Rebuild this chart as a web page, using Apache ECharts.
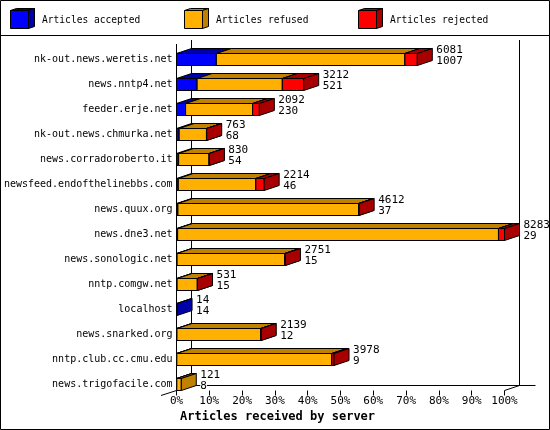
<!DOCTYPE html>
<html><head><meta charset="utf-8">
<script src="https://cdn.jsdelivr.net/npm/echarts@6/dist/echarts.min.js"></script>
<style>html,body{margin:0;padding:0;background:#fff}#c{width:550px;height:430px}</style>
</head><body><div id="c"></div>
<script>
const hosts = ['nk-out.news.weretis.net','news.nntp4.net','feeder.erje.net','nk-out.news.chmurka.net','news.corradoroberto.it','newsfeed.endofthelinebbs.com','news.quux.org','news.dne3.net','news.sonologic.net','nntp.comgw.net','localhost','news.snarked.org','nntp.club.cc.cmu.edu','news.trigofacile.com'];
const totals   = [6081, 3212, 2092, 763, 830, 2214, 4612, 8283, 2751, 531, 14, 2139, 3978, 121];
const accepted = [1007, 521, 230, 68, 54, 46, 37, 29, 15, 15, 14, 12, 9, 8];
const refused  = [4761, 2152, 1692, 689, 770, 1958, 4560, 8102, 2716, 511, 0, 2117, 3914, 113];
const rejected = [313, 539, 170, 6, 6, 210, 15, 152, 20, 5, 0, 10, 55, 0];
const seriesNames = ['Articles accepted', 'Articles refused', 'Articles rejected'];
const axisTitle = 'Articles received by server';

const FRONT = ['#0000ff', '#ffb000', '#ff0000'];
const SHADE = ['#0000a8', '#c08000', '#a80000'];
const DX = 15, DY = -5, HALF = 6, AXIS_OFF = -6;
const MONO = '"DejaVu Sans Mono", "Liberation Mono", monospace';
const maxTotal = Math.max(...totals);
const segs = [accepted, refused, rejected];

function box(x1, x2, yT, yB, k, dx, dy) {
  const st = { fill: SHADE[k], stroke: '#000', lineWidth: 1 };
  return [
    { type: 'polygon', shape: { points: [[x1, yT], [x2, yT], [x2 + dx, yT + dy], [x1 + dx, yT + dy]] }, style: st },
    { type: 'rect', shape: { x: x1, y: yT, width: x2 - x1, height: yB - yT }, style: { fill: FRONT[k], stroke: '#000', lineWidth: 1 } },
    { type: 'polygon', shape: { points: [[x2, yT], [x2 + dx, yT + dy], [x2 + dx, yB + dy], [x2, yB]] }, style: st }
  ];
}

const series = [];
// frame (3D walls)
series.push({
  type: 'custom', name: 'frame', silent: true,
  data: [[0, 0]],
  renderItem: function (params, api) {
    const cs = params.coordSys;
    const x0 = api.coord([0, 0])[0], x1 = api.coord([100, 0])[0];
    const yF = cs.y + cs.height + AXIS_OFF, yB = yF + DY;
    const ls = { stroke: '#000', lineWidth: 1 };
    const L = (a, b, c, d) => ({ type: 'line', shape: { x1: a, y1: b, x2: c, y2: d }, style: ls });
    return { type: 'group', children: [
      L(x0, cs.y - 2.5, x0, yF),
      L(x0 + DX, cs.y - 6.5, x0 + DX, yB),
      L(x1 + DX, cs.y - 6.5, x1 + DX, yB),
      L(x0 + DX, yB, x1 + DX + 16, yB),
      L(x1, yF, x1 + DX, yB),
      L(x0 - 15.5, yF + 5, x0, yF)
    ] };
  }
});
// stacked 3D segments
segs.forEach(function (arr, k) {
  const data = hosts.map(function (h, j) {
    let start = 0;
    for (let m = 0; m < k; m++) start += segs[m][j];
    return [start / maxTotal * 100, (start + arr[j]) / maxTotal * 100, j, arr[j]];
  });
  series.push({
    type: 'custom', name: seriesNames[k],
    data: data,
    encode: { x: [0, 1], y: 2 },
    renderItem: function (params, api) {
      if (api.value(3) <= 0) return null;
      const j = api.value(2);
      const p1 = api.coord([api.value(0), j]);
      const p2 = api.coord([api.value(1), j]);
      const c = p1[1];
      const yT = Math.round(c) - HALF + 0.5, yBt = Math.round(c) + HALF + 0.5;
      return { type: 'group', children: box(p1[0], p2[0], yT, yBt, k, DX, DY) };
    }
  });
});
// value labels
series.push({
  type: 'custom', name: 'labels', silent: true,
  data: hosts.map((h, j) => [totals[j] / maxTotal * 100, j, totals[j], accepted[j]]),
  encode: { x: 0, y: 1 },
  renderItem: function (params, api) {
    const p = api.coord([api.value(0), api.value(1)]);
    const x = p[0] + DX + 4, c = Math.round(p[1]);
    const ts = (t, y) => ({ type: 'text', x: x, y: y, style: { text: String(t), font: '11px ' + MONO, fill: '#000', verticalAlign: 'middle', align: 'left', backgroundColor: '#fff' } });
    return { type: 'group', children: [ts(api.value(2), c - 8.5), ts(api.value(3), c + 2.5)] };
  }
});

// legend graphic
const legendItems = [];
const legX = [10, 184, 358];
seriesNames.forEach(function (n, k) {
  const x = legX[k] + 0.5, y = 10.5;
  legendItems.push({ type: 'group', children: box(x, x + 18, y, y + 18, k, 6, -2) });
  legendItems.push({ type: 'text', x: legX[k] + 32, y: 20, style: { text: n, font: '9.6px ' + MONO, fill: '#000', verticalAlign: 'middle' } });
});

const chart = echarts.init(document.getElementById('c'), null, { renderer: 'canvas' });
chart.setOption({
  animation: false,
  backgroundColor: '#fff',
  grid: { left: 176.5, width: 328, top: 46.5, height: 350, containLabel: false },
  xAxis: {
    type: 'value', min: 0, max: 100, interval: 10, offset: AXIS_OFF,
    axisLine: { show: false },
    axisTick: { show: true, length: 5, lineStyle: { color: '#000', width: 1 } },
    splitLine: { show: false },
    axisLabel: { formatter: '{value}%', fontFamily: MONO, fontSize: 11, color: '#000', margin: 5 }
  },
  yAxis: {
    type: 'category', data: hosts, inverse: true,
    axisLine: { show: false }, axisTick: { show: false }, splitLine: { show: false },
    axisLabel: { fontFamily: MONO, fontSize: 10, color: '#000', margin: 4 }
  },
  graphic: [
    { type: 'rect', shape: { x: 0.5, y: 0.5, width: 549, height: 429 }, style: { fill: null, stroke: '#000', lineWidth: 1 }, z: 100 },
    { type: 'line', shape: { x1: 0, y1: 35.5, x2: 550, y2: 35.5 }, style: { stroke: '#000', lineWidth: 1 } },
    { type: 'group', children: legendItems },
    { type: 'text', x: 180, y: 417, style: { text: axisTitle, font: 'bold 12px ' + MONO, fill: '#000', verticalAlign: 'middle' } }
  ],
  series: series
});
</script></body></html>
